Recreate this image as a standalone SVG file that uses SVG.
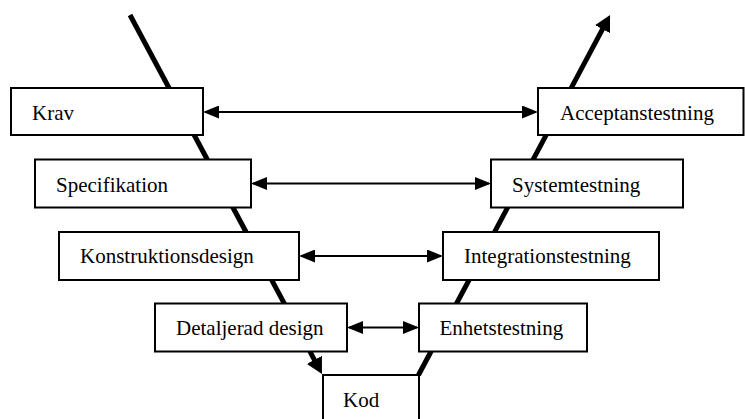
<svg xmlns="http://www.w3.org/2000/svg" width="745" height="419" viewBox="0 0 745 419">
  <style>
    .box rect { fill: #fff; stroke: #000; stroke-width: 2; }
    .box text { font-family: "Liberation Serif", "Times New Roman", serif; font-size: 21px; fill: #000; }
    .v { fill: none; stroke: #000; stroke-width: 5; }
    .link { fill: none; stroke: #000; stroke-width: 2; marker-start: url(#head); marker-end: url(#head); }
  </style>
  <defs>
    <marker id="head" viewBox="0 0 16 13" refX="14" refY="6.5" markerWidth="16" markerHeight="13" markerUnits="userSpaceOnUse" orient="auto-start-reverse">
      <path d="M0,0 L16,6.5 L0,13 z" fill="#000"/>
    </marker>
    <marker id="bighead" viewBox="0 0 16 17" refX="4" refY="8.5" markerWidth="16" markerHeight="17" markerUnits="userSpaceOnUse" orient="auto">
      <path d="M0,0 L16,8.5 L0,17 z" fill="#000"/>
    </marker>
  </defs>

  <!-- the V: down the design side, up the test side -->
  <g id="v-path">
    <path class="v" d="M130,15 L316.3,363.4" marker-end="url(#bighead)"/>
    <path class="v" d="M418.5,375 L604.4,25.6" marker-end="url(#bighead)"/>
  </g>

  <!-- level links between design and test stages -->
  <g id="connectors">
    <path class="link" d="M205,112 L536,112"/>
    <path class="link" d="M253,183.5 L489,183.5"/>
    <path class="link" d="M301,256 L441,256"/>
    <path class="link" d="M349,327.5 L417,327.5"/>
  </g>

  <g id="krav" class="box">
    <rect x="11" y="88" width="192" height="47"/>
    <text x="32" y="119.5">Krav</text>
  </g>
  <g id="acceptanstestning" class="box">
    <rect x="538" y="88" width="205.5" height="47"/>
    <text x="560" y="119.5">Acceptanstestning</text>
  </g>
  <g id="specifikation" class="box">
    <rect x="35" y="159.5" width="216" height="48"/>
    <text x="56" y="191.5">Specifikation</text>
  </g>
  <g id="systemtestning" class="box">
    <rect x="491" y="159.5" width="192" height="48"/>
    <text x="512" y="191.5">Systemtestning</text>
  </g>
  <g id="konstruktionsdesign" class="box">
    <rect x="59" y="232" width="240" height="48"/>
    <text x="80" y="263">Konstruktionsdesign</text>
  </g>
  <g id="integrationstestning" class="box">
    <rect x="443" y="232" width="216" height="48"/>
    <text x="464" y="263">Integrationstestning</text>
  </g>
  <g id="detaljerad-design" class="box">
    <rect x="155" y="303.5" width="192" height="48"/>
    <text x="176" y="334.5">Detaljerad design</text>
  </g>
  <g id="enhetstestning" class="box">
    <rect x="419" y="303.5" width="168" height="48"/>
    <text x="439.5" y="334.5">Enhetstestning</text>
  </g>
  <g id="kod" class="box">
    <rect x="323" y="375" width="96" height="60"/>
    <text x="343" y="406.5">Kod</text>
  </g>
</svg>
